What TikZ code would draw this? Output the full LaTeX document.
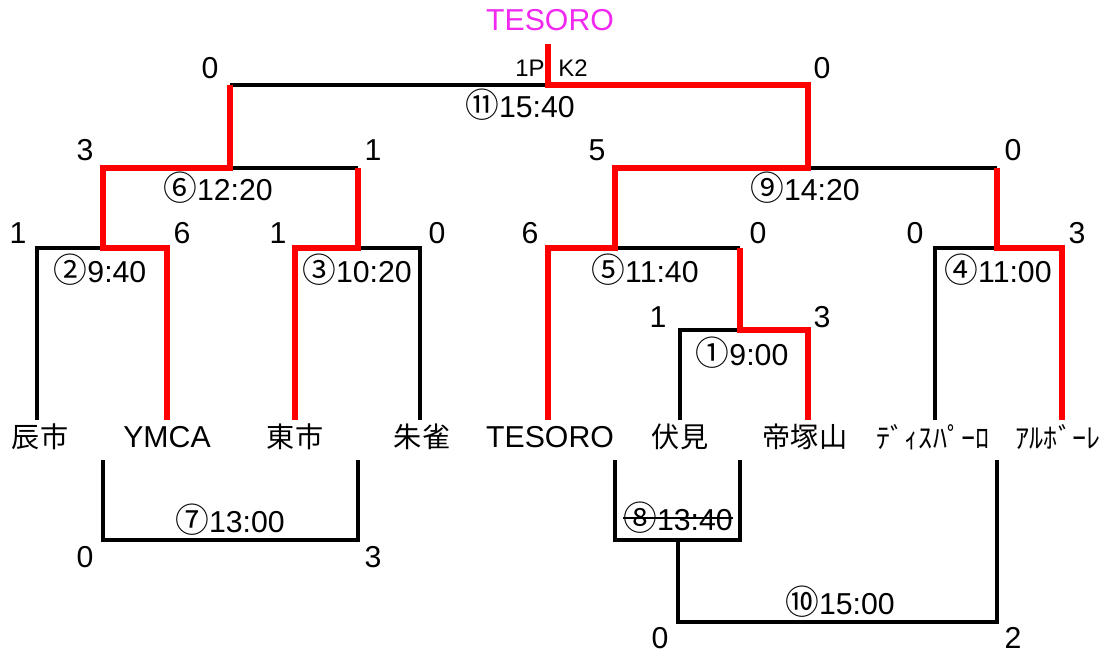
\documentclass[tikz,border=0pt]{standalone}
\usepackage{fontspec}
\setmainfont{Liberation Sans}
\newfontfamily\jp{Noto Sans CJK JP}
\usepackage{tikz}

\definecolor{champpink}{RGB}{240,40,240}
\newcommand{\lat}{\fontsize{8.6pt}{9pt}\selectfont}
\newcommand{\jps}{\jp\fontsize{8pt}{9pt}\selectfont}
\newcommand{\gno}[1]{{\jp\fontsize{9.6pt}{9pt}\selectfont #1}}

\begin{document}
\begin{tikzpicture}[x=0.01cm,y=-0.01cm,
  win/.style={draw=red,line width=1.9pt,line join=miter},
  lose/.style={draw=black,line width=0.95pt},
  lbl/.style={inner sep=0pt,font=\lat},
  team/.style={inner sep=0pt,font=\lat},
  game/.style={inner sep=0pt,font=\lat}]
\useasboundingbox (0,0) rectangle (1110,652);

% teams
\node[team] (tatsu)  at (40,437)   {\jps 辰市};
\node[team] (ymca)   at (167,437)  {YMCA};
\node[team] (higa)   at (295,437)  {\jps 東市};
\node[team] (suzaku) at (422,437)  {\jps 朱雀};
\node[team] (teso)   at (550,437)  {TESORO};
\node[team] (fushi)  at (680,437)  {\jps 伏見};
\node[team] (tezuka) at (805,437)  {\jps 帝塚山};
\node[team] (dispa)  at (933,437)  {\jps ﾃﾞｨｽﾊﾟｰﾛ};
\node[team] (arbo)   at (1058,437) {\jps ｱﾙﾎﾞｰﾚ};
\node[team,text=champpink] (champ) at (550,20) {TESORO};

% lines lost
\draw[lose] (37,420) |- (103,248);
\draw[lose] (420,420) |- (358,248);
\draw[lose] (230,168) -- (358,168);
\draw[lose] (230,85) -- (550,85);
\draw[lose] (615,248) -- (740,248);
\draw[lose] (680,420) |- (740,330);
\draw[lose] (808,168) -- (997,168);
\draw[lose] (935,420) |- (997,248);
\draw[lose] (103,460) |- (358,540) -- (358,460);
\draw[lose] (615,460) |- (740,540) -- (740,460);
\draw[lose] (678,540) |- (997,622) -- (997,460);

% lines won
\draw[win] (167,420) -- (167,248) -- (103,248) -- (103,168) -- (230,168) -- (230,85);
\draw[win] (295,420) -- (295,248) -- (358,248) -- (358,168);
\draw[win] (548,420) -- (548,248) -- (615,248) -- (615,168) -- (808,168) -- (808,85) -- (548,85) -- (548,44);
\draw[win] (808,420) -- (808,330) -- (740,330) -- (740,248);
\draw[win] (1062,420) -- (1062,248) -- (997,248) -- (997,168);

% games
\node[game] (g1)  at (742,353) {\gno{①}9:00};
\node[game] (g2)  at (100,270) {\gno{②}9:40};
\node[game] (g3)  at (357,270) {\gno{③}10:20};
\node[game] (g4)  at (998,270) {\gno{④}11:00};
\node[game] (g5)  at (645,270) {\gno{⑤}11:40};
\node[game] (g6)  at (218,188) {\gno{⑥}12:20};
\node[game] (g7)  at (230,520) {\gno{⑦}13:00};
\node[game] (g8)  at (678,518) {\gno{⑧}13:40};
\node[game] (g9)  at (805,188) {\gno{⑨}14:20};
\node[game] (g10) at (840,602) {\gno{⑩}15:00};
\node[game] (g11) at (520,105) {\gno{⑪}15:40};
\draw[line width=0.4pt] (g8.west) -- (g8.east);

% scores
\node[lbl] (s11a) at (210,68)  {0};
\node[lbl] (s11b) at (822,68)  {0};
\node[lbl,font=\fontsize{6.8pt}{8pt}\selectfont] (pk1) at (530,68) {1P};
\node[lbl,font=\fontsize{6.8pt}{8pt}\selectfont] (pk2) at (573,68) {K2};
\node[lbl] (s6a)  at (85,150)  {3};
\node[lbl] (s6b)  at (373,150) {1};
\node[lbl] (s9a)  at (597,150) {5};
\node[lbl] (s9b)  at (1013,150) {0};
\node[lbl] (s2a)  at (18,233)  {1};
\node[lbl] (s2b)  at (182,233) {6};
\node[lbl] (s3a)  at (278,233) {1};
\node[lbl] (s3b)  at (437,233) {0};
\node[lbl] (s5a)  at (530,233) {6};
\node[lbl] (s5b)  at (758,233) {0};
\node[lbl] (s4a)  at (915,233) {0};
\node[lbl] (s4b)  at (1077,233) {3};
\node[lbl] (s1a)  at (658,317) {1};
\node[lbl] (s1b)  at (822,317) {3};
\node[lbl] (s7a)  at (85,557)  {0};
\node[lbl] (s7b)  at (373,557) {3};
\node[lbl] (s10a) at (660,638) {0};
\node[lbl] (s10b) at (1013,638) {2};
\end{tikzpicture}
\end{document}
